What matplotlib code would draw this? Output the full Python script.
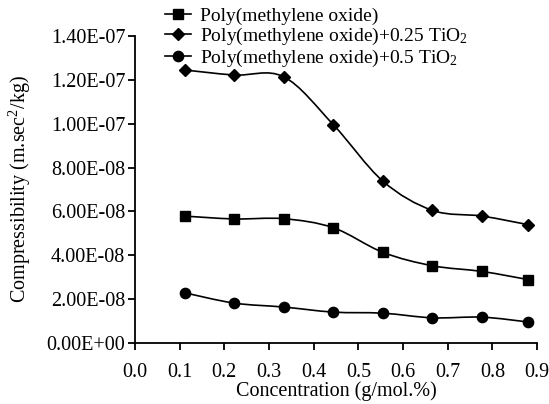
import matplotlib
matplotlib.use("Agg")
import matplotlib.pyplot as plt
from matplotlib.path import Path
from matplotlib.patches import PathPatch
from matplotlib.lines import Line2D
from matplotlib.ticker import FuncFormatter, MultipleLocator

plt.rcParams['font.family'] = ['Liberation Serif', 'DejaVu Serif']
plt.rcParams['mathtext.fontset'] = 'custom'
plt.rcParams['mathtext.rm'] = 'Liberation Serif'
plt.rcParams['mathtext.it'] = 'Liberation Serif:italic'
plt.rcParams['mathtext.default'] = 'rm'

# Data
concentration = [0.111, 0.222, 0.333, 0.444, 0.555, 0.666, 0.777, 0.880]
pom = [5.79e-8, 5.66e-8, 5.67e-8, 5.26e-8, 4.14e-8, 3.53e-8, 3.27e-8, 2.90e-8]
pom_025 = [1.244e-7, 1.221e-7, 1.213e-7, 0.995e-7, 7.38e-8, 6.05e-8, 5.79e-8, 5.40e-8]
pom_05 = [2.30e-8, 1.83e-8, 1.65e-8, 1.42e-8, 1.37e-8, 1.16e-8, 1.19e-8, 0.97e-8]
labels = ['Poly(methylene oxide)',
          'Poly(methylene oxide)+0.25 TiO$_2$',
          'Poly(methylene oxide)+0.5 TiO$_2$']
markers = ['s', 'D', 'o']
msizes = [7.4, 6.2, 7.4]

fig = plt.figure(figsize=(5.49, 4.04), dpi=100)
ax = fig.add_axes([135/549, 1-343.3/404, (537-135)/549, (343.3-35.7)/404])


def smooth_path(xs, ys):
    pts = list(zip(xs, ys))
    n = len(pts)
    verts = [pts[0]]
    codes = [Path.MOVETO]
    for i in range(n - 1):
        p0 = pts[i - 1] if i > 0 else pts[i]
        p1 = pts[i]
        p2 = pts[i + 1]
        p3 = pts[i + 2] if i + 2 < n else pts[i + 1]
        c1 = (p1[0] + (p2[0] - p0[0]) / 6, p1[1] + (p2[1] - p0[1]) / 6)
        c2 = (p2[0] - (p3[0] - p1[0]) / 6, p2[1] - (p3[1] - p1[1]) / 6)
        verts += [c1, c2, p2]
        codes += [Path.CURVE4] * 3
    return Path(verts, codes)


for ys, lab, m, ms in zip([pom, pom_025, pom_05], labels, markers, msizes):
    patch = PathPatch(smooth_path(concentration, ys), fill=False,
                      edgecolor='black', lw=1.2, transform=ax.transData)
    ax.add_patch(patch)
    ax.plot(concentration, ys, linestyle='none', marker=m, markersize=ms,
            color='black', label=lab)

ax.set_xlim(0, 0.9)
ax.set_ylim(0, 1.4e-7)
ax.xaxis.set_major_locator(MultipleLocator(0.1))
ax.yaxis.set_major_locator(MultipleLocator(2e-8))
ax.xaxis.set_major_formatter(FuncFormatter(lambda v, p: f"{v:.1f}"))
ax.yaxis.set_major_formatter(FuncFormatter(lambda v, p: f"{v:.2E}"))

for s in ['top', 'right']:
    ax.spines[s].set_visible(False)
for s in ['left', 'bottom']:
    ax.spines[s].set_linewidth(1.3)
ax.tick_params(direction='out', length=5, width=1.3, labelsize=14.5)
ax.tick_params(axis='x', pad=9)
ax.tick_params(axis='y', pad=2)

ax.set_xlabel('Concentration (g/mol.%)', fontsize=14.5, labelpad=0)
ax.set_ylabel('Compressibility (m.sec$^2$/kg)', fontsize=14.5, labelpad=10)

handles = [Line2D([], [], color='black', lw=1.2, marker=m, markersize=ms)
           for m, ms in zip(markers, msizes)]
fig.legend(handles, labels, loc='upper left', bbox_to_anchor=(165/549, 1 - 7/404),
           frameon=False, fontsize=14, handlelength=1.35, handletextpad=0.45,
           labelspacing=0.05, borderpad=0, borderaxespad=0)

fig.savefig('out.png', dpi=100)
